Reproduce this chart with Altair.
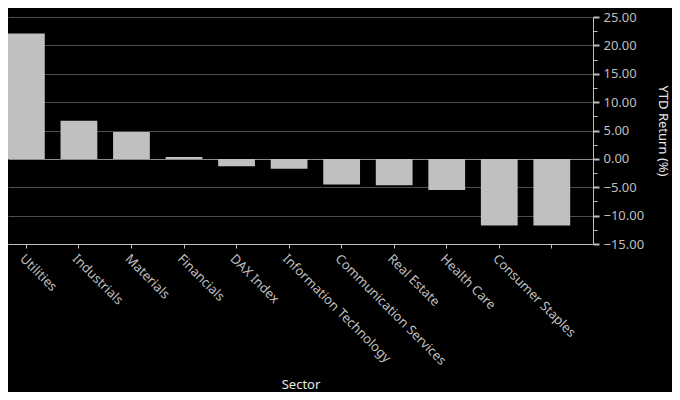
import altair as alt
import pandas as pd

sectors = ["Utilities", "Industrials", "Materials", "Financials", "DAX Index",
           "Information Technology", "Communication Services", "Real Estate",
           "Health Care", "Consumer Staples", " "]
returns = [22.1, 6.7, 4.75, 0.33, -1.3, -1.75, -4.5, -4.65, -5.5, -11.75, -11.75]
major_ticks = [-15, -10, -5, 0, 5, 10, 15, 20, 25]
minor_ticks = [-12.5, -7.5, -2.5, 2.5, 7.5, 12.5, 17.5, 22.5]

df = pd.DataFrame({"Sector": sectors, "Return": returns})

FONT = "Noto Sans"
LABEL = "#bfbfbf"

x_enc = alt.X(
    "Sector:N", sort=sectors,
    scale=alt.Scale(paddingInner=0.3, paddingOuter=0.217, align=0, round=False),
    axis=alt.Axis(title="Sector", labelAngle=45, labelColor=LABEL, labelFont=FONT,
                  labelFontSize=13, titleColor="#e6e6e6", titleFont=FONT,
                  titleFontSize=13, titleFontWeight="normal", titlePadding=11,
                  domainColor=LABEL, tickColor=LABEL, tickSize=4, labelPadding=4),
)
y_scale = alt.Scale(domain=[-15, 25], nice=False, zero=False)

bars = alt.Chart(df).mark_bar(color="#c0c0c0").encode(
    x=x_enc,
    y=alt.Y("Return:Q", scale=y_scale,
            axis=alt.Axis(orient="right", values=major_ticks, format=".2f",
                          title="YTD Return (%)", grid=True,
                          gridColor={"condition": {"test": "datum.value === 0",
                                                   "value": "#8a8a8a"},
                                     "value": "#4d4d4d"},
                          gridWidth=1, labelColor=LABEL, labelFont=FONT,
                          labelFontSize=13, titleColor="#e6e6e6", titleFont=FONT,
                          titleFontSize=13, titleFontWeight="normal", titlePadding=12,
                          domainColor=LABEL, tickColor=LABEL, tickSize=6, tickWidth=2,
                          labelPadding=4)),
)

minor = alt.Chart(df).mark_bar(opacity=0).encode(
    x=alt.X("Sector:N", sort=sectors),
    y=alt.Y("Return:Q", scale=y_scale,
            axis=alt.Axis(orient="right", values=minor_ticks, labels=False,
                          domain=False, grid=False, title=None, tickSize=4,
                          tickColor=LABEL)),
)

chart = alt.layer(bars, minor).resolve_axis(y="independent").properties(
    width=664, height=227,
    autosize=alt.AutoSizeParams(type="fit-x", contains="padding"),
    padding={"left": 0, "top": 3, "right": 3, "bottom": 0},
    background="#000000",
).configure_view(stroke=None)

chart.save("out.html", embed_options={"renderer": "svg", "actions": False})
